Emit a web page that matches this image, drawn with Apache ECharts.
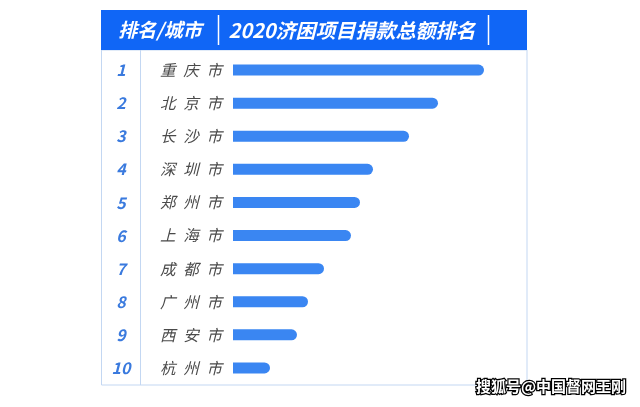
<!DOCTYPE html>
<html><head><meta charset="utf-8">
<script src="https://cdn.jsdelivr.net/npm/echarts@6/dist/echarts.min.js"></script>
<style>html,body{margin:0;padding:0;background:#fff}#c{width:640px;height:407px}</style>
</head><body><div id="c"></div>
<script>
var cities = ['重庆市','北京市','长沙市','深圳市','郑州市','上海市','成都市','广州市','西安市','杭州市'];
var ranks = ['1','2','3','4','5','6','7','8','9','10'];
var values = [251, 205, 176, 140, 127, 118, 91, 75, 64, 37];
var headers = ['排名/城市', '2020济困项目捐款总额排名'];
var watermark = '搜狐号@中国督网王刚';

var font = '"Noto Sans CJK SC", "Noto Sans", sans-serif';
var chart = echarts.init(document.getElementById('c'));
chart.setOption({
  animation: false,
  grid: {left: 233, top: 53.5, width: 260, height: 331},
  xAxis: {type: 'value', min: 0, max: 260, show: false},
  yAxis: [
    {type: 'category', data: cities, inverse: true,
     axisLine: {show: false}, axisTick: {show: false}, splitLine: {show: false},
     axisLabel: {margin: 11, align: 'right', color: '#4a4a4a', fontSize: 15.5, fontStyle: 'italic', fontFamily: font,
       formatter: function (v) { return v.split('').join('\u2002'); }}},
    {type: 'category', data: ranks, inverse: true, position: 'left',
     axisLine: {show: false}, axisTick: {show: false}, splitLine: {show: false},
     axisLabel: {margin: 112, align: 'center', color: '#3a7ade', fontSize: 16, fontWeight: 'bold', fontStyle: 'italic', fontFamily: font}}
  ],
  series: [{
    type: 'bar', data: values, barWidth: 11,
    itemStyle: {color: '#3a86f2', borderRadius: [0, 6, 6, 0]}
  }],
  graphic: [
    {type: 'rect', shape: {x: 101.5, y: 50, width: 425.5, height: 335}, style: {fill: 'none', stroke: '#c3d7f2', lineWidth: 1}},
    {type: 'line', shape: {x1: 140.5, y1: 50, x2: 140.5, y2: 385}, style: {stroke: '#c3d7f2', lineWidth: 1}},
    {type: 'rect', shape: {x: 101, y: 10, width: 426, height: 40}, style: {fill: '#1066f6'}},
    {type: 'line', shape: {x1: 218.5, y1: 15, x2: 218.5, y2: 45}, style: {stroke: '#fff', lineWidth: 1.5}},
    {type: 'line', shape: {x1: 488.5, y1: 15, x2: 488.5, y2: 45}, style: {stroke: '#fff', lineWidth: 1.5}},
    {type: 'text', x: 160, y: 30, style: {text: headers[0], fill: '#fff', font: 'italic bold 19px ' + font, textAlign: 'center', textVerticalAlign: 'middle'}},
    {type: 'text', x: 352, y: 30, style: {text: headers[1], fill: '#fff', font: 'italic bold 20px ' + font, textAlign: 'center', textVerticalAlign: 'middle'}},
    {type: 'text', x: 626, y: 386, style: {text: watermark, fill: '#fff', stroke: '#000', lineWidth: 2.5, font: 'bold 15px ' + font, textAlign: 'right', textVerticalAlign: 'middle'}}
  ]
});
</script></body></html>
